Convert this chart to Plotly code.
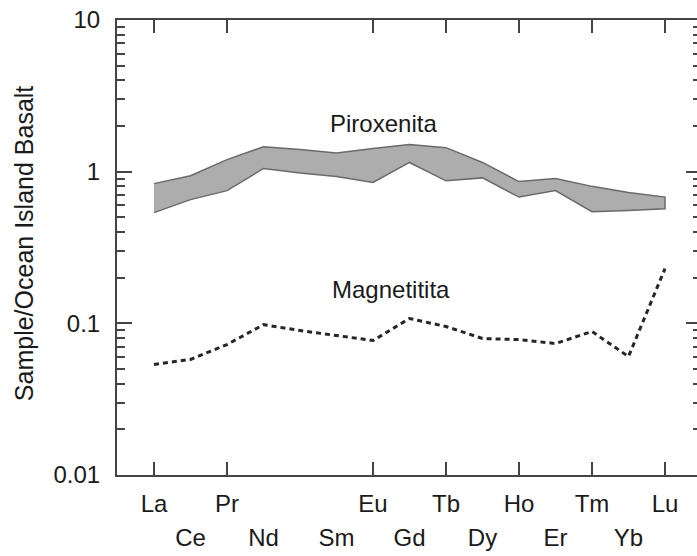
import plotly.graph_objects as go

elements = ["La", "Ce", "Pr", "Nd", "Pm", "Sm", "Eu", "Gd", "Tb", "Dy", "Ho", "Er", "Tm", "Yb", "Lu"]
row1_labels = ["La", "Pr", "Eu", "Tb", "Ho", "Tm", "Lu"]
row2_labels = ["Ce", "Nd", "Sm", "Gd", "Dy", "Er", "Yb"]

piroxenita_upper = [0.834, 0.94, 1.20, 1.46, 1.40, 1.33, 1.42, 1.51, 1.44, 1.15, 0.86, 0.90, 0.80, 0.73, 0.68]
piroxenita_lower = [0.537, 0.654, 0.75, 1.05, 0.98, 0.93, 0.85, 1.15, 0.87, 0.91, 0.68, 0.75, 0.545, 0.554, 0.57]
magnetitita = [0.0535, 0.0578, 0.0725, 0.098, 0.0897, 0.0831, 0.077, 0.1076, 0.0953, 0.0794, 0.0782, 0.0736, 0.0883, 0.0604, 0.2296]

y_major = [0.01, 0.1, 1, 10]
y_major_text = ["0.01", "0.1", "1", "10"]
y_minor = [m * d for d in (0.01, 0.1, 1) for m in range(2, 10)]

FONT = "Liberation Sans, Arial, sans-serif"
TXT = "#1a1a1a"
AX = "#444444"
FS = 24

fig = go.Figure()

# Piroxenita band as closed polygon
fig.add_trace(go.Scatter(
    x=elements + elements[::-1],
    y=piroxenita_upper + piroxenita_lower[::-1],
    mode="lines", fill="toself",
    fillcolor="#adadad",
    line=dict(color="#6a6a6a", width=1.5),
    hoverinfo="skip", showlegend=False,
))

# Magnetitita dashed line
fig.add_trace(go.Scatter(
    x=elements, y=magnetitita, mode="lines",
    line=dict(color="#262626", width=3, dash="5px,4px"),
    showlegend=False,
))

# invisible trace to hold the overlay axes
fig.add_trace(go.Scatter(
    x=elements, y=magnetitita, xaxis="x2", yaxis="y2", mode="markers",
    marker=dict(opacity=0), hoverinfo="skip", showlegend=False,
))

fig.update_layout(
    width=697, height=556,
    margin=dict(l=117, r=0, t=20, b=81),
    paper_bgcolor="white", plot_bgcolor="white",
    font=dict(family=FONT, size=FS, color=TXT),
    xaxis=dict(
        type="category", categoryorder="array", categoryarray=elements,
        range=[-1.014, 14.877],
        tickvals=row1_labels, ticktext=row1_labels,
        ticks="inside", ticklen=13, tickwidth=2, tickcolor=AX,
        showline=True, linecolor=AX, linewidth=2, mirror="ticks",
        showgrid=False, zeroline=False,
        tickfont=dict(family=FONT, size=FS, color=TXT),
        ticklabelstandoff=6,
    ),
    xaxis2=dict(
        type="category", categoryorder="array", categoryarray=elements,
        overlaying="x", matches="x", anchor="y2", side="bottom",
        tickvals=row2_labels, ticktext=row2_labels,
        ticks="", showline=False, showgrid=False, zeroline=False,
        tickfont=dict(family=FONT, size=FS, color=TXT),
        ticklabelstandoff=46,
    ),
    yaxis=dict(
        type="log", range=[-2, 1],
        tickvals=y_major, ticktext=y_major_text,
        ticks="inside", ticklen=15, tickwidth=2, tickcolor=AX,
        minor=dict(tickvals=y_minor, ticks="inside", ticklen=8, tickwidth=2, tickcolor=AX, showgrid=False),
        showline=True, linecolor=AX, linewidth=2, mirror=False,
        showgrid=False, zeroline=False,
        tickfont=dict(family=FONT, size=FS, color=TXT),
        ticklabelstandoff=10,
    ),
    yaxis2=dict(
        type="log", overlaying="y", matches="y", anchor="x", side="right",
        tickvals=y_major, showticklabels=False,
        ticks="inside", ticklen=11, tickwidth=2, tickcolor=AX,
        minor=dict(tickvals=y_minor, ticks="inside", ticklen=4, tickwidth=2, tickcolor=AX, showgrid=False),
        showline=False, showgrid=False, zeroline=False,
    ),
    annotations=[
        dict(text="Sample/Ocean Island Basalt", xref="paper", yref="paper",
             x=-0.160, y=0.510, xanchor="center", yanchor="middle",
             textangle=-90, showarrow=False, font=dict(family=FONT, size=25, color=TXT)),
        dict(text="Piroxenita", xref="x", yref="y", x=6.3, y=0.316,
             xanchor="center", yanchor="middle", showarrow=False,
             font=dict(family=FONT, size=FS, color=TXT)),
        dict(text="Magnetitita", xref="x", yref="y", x=6.5, y=-0.777,
             xanchor="center", yanchor="middle", showarrow=False,
             font=dict(family=FONT, size=FS, color=TXT)),
    ],
)

fig.write_html("out.html")
